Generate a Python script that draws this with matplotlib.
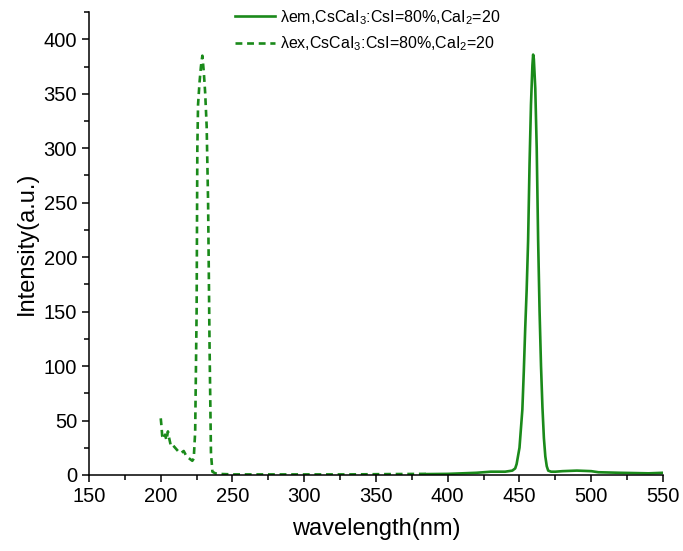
import numpy as np
import matplotlib.pyplot as plt
from matplotlib.ticker import MultipleLocator

# excitation spectrum (dashed)
ex_wl = [200, 200.5, 201, 202, 203, 204, 205, 206, 207, 208, 210, 212, 214, 216,
         218, 220, 222, 223, 224, 225, 225.5, 226, 227, 228, 229, 230, 231, 232,
         233, 234, 235, 236, 238, 240, 250, 270, 300, 330, 360, 385]
ex_int = [52, 45, 36, 33, 37, 32, 40, 33, 27, 28, 25, 22, 20, 22,
          17, 15, 13, 15, 40, 150, 300, 340, 360, 375, 385, 370, 350, 320,
          250, 120, 20, 3, 1.5, 1, 0.5, 0.5, 0.5, 0.5, 0.8, 1]

# emission spectrum (solid)
em_wl = [385, 400, 410, 420, 430, 440, 445, 447, 448, 450, 452, 453, 454, 455,
         456, 457, 458, 459, 459.5, 460, 461, 462, 463, 464, 465, 466, 467,
         468, 469, 470, 472, 475, 480, 490, 500, 505, 520, 540, 550]
em_int = [0.8, 1, 1.5, 2, 3, 3, 4, 6, 10, 25, 60, 95, 135, 170,
          215, 285, 340, 376, 386, 382, 355, 300, 215, 150, 100, 62, 34,
          17, 8, 4, 3, 3, 3.5, 4, 3.5, 2.5, 2, 1.5, 2]

label_em = r"λem,CsCaI$_3$:CsI=80%,CaI$_2$=20"
label_ex = r"λex,CsCaI$_3$:CsI=80%,CaI$_2$=20"

plt.rcParams['font.family'] = ['Liberation Sans', 'DejaVu Sans']
plt.rcParams['mathtext.default'] = 'regular'

green = '#1a8a1a'

fig = plt.figure(figsize=(6.83, 5.51), dpi=100)
ax = fig.add_axes([0.1303, 0.138, 0.8404, 0.840])

ax.plot(em_wl, em_int, color=green, lw=1.9, label=label_em)
ax.plot(ex_wl, ex_int, color=green, lw=1.9, ls=(0, (2.6, 1.8)), label=label_ex)

ax.set_xlim(150, 550)
ax.set_ylim(0, 425)
ax.xaxis.set_major_locator(MultipleLocator(50))
ax.xaxis.set_minor_locator(MultipleLocator(25))
ax.yaxis.set_major_locator(MultipleLocator(50))
ax.yaxis.set_minor_locator(MultipleLocator(25))

for s in ['top', 'right']:
    ax.spines[s].set_visible(False)
for s in ['left', 'bottom']:
    ax.spines[s].set_linewidth(1.1)

ax.tick_params(which='major', direction='out', length=5, width=1.1, labelsize=14.5)
ax.tick_params(axis='x', which='major', pad=4)
ax.tick_params(which='minor', direction='out', length=3.5, width=1.1)

ax.set_xlabel("wavelength(nm)", fontsize=17, labelpad=8)
ax.set_ylabel("Intensity(a.u.)", fontsize=17, labelpad=4)

ax.legend(loc='upper center', bbox_to_anchor=(0.485, 1.04), frameon=False,
          fontsize=11.5, handlelength=2.5, handletextpad=0.3, labelspacing=0.5)

fig.savefig("out.png", dpi=100)
